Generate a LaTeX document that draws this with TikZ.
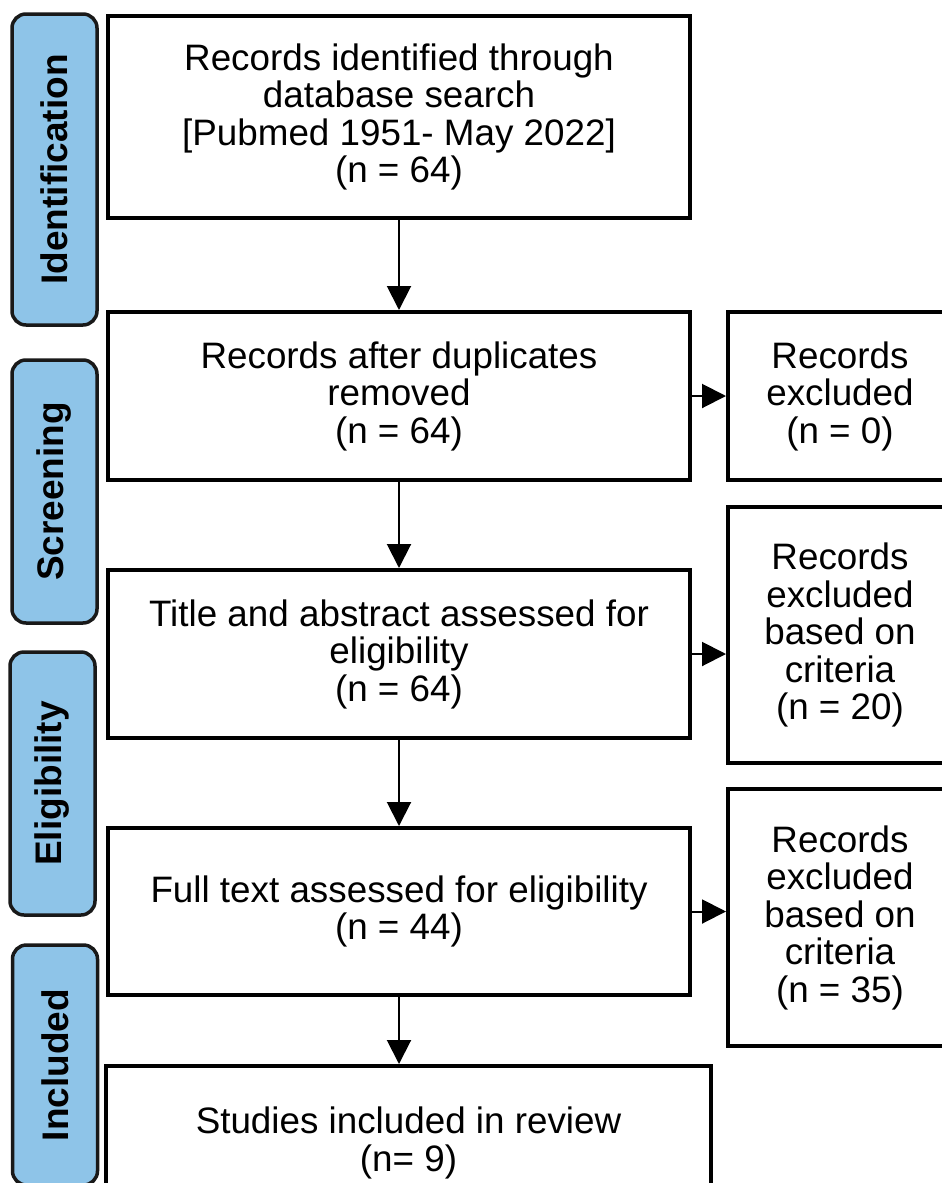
\documentclass[tikz,border=0pt]{standalone}
\usepackage{fontspec}
\setmainfont{Liberation Sans}
\usetikzlibrary{arrows.meta}
\definecolor{stageblue}{HTML}{8EC4E8}
\begin{document}
\begin{tikzpicture}[x=1pt,y=-1pt,
    stage/.style={draw=black!90,line width=3.5pt,fill=stageblue,rounded corners=14pt,
      minimum height=85pt,inner sep=0pt,rotate=90,font=\fontsize{37}{40}\selectfont\bfseries},
    box/.style={draw,line width=4pt,fill=white,minimum width=582pt,inner sep=0pt,
      align=center,font=\fontsize{36.8}{37.5}\selectfont},
    exclbox/.style={box,minimum width=224pt},
    flow/.style={line width=2pt,-{Triangle[length=24pt,width=24pt]}}]
    \useasboundingbox (0,0) rectangle (942,1183);
    \clip (0,0) rectangle (942,1183);
    \node[stage,minimum width=311pt] (sident) at (54.5,169.5) {Identification};
    \node[stage,minimum width=263pt] (sscreen) at (54.5,491.5) {Screening};
    \node[stage,minimum width=263pt] (selig) at (52.5,783.5) {Eligibility};
    \node[stage,minimum width=240pt] (sincl) at (55,1065) {Included};
    \node[box,minimum height=202pt] (ident) at (399,117)
      {Records identified through\\database search\\{}[Pubmed 1951- May 2022]\\(n = 64)};
    \node[box,minimum height=168pt] (dedup) at (399,396)
      {Records after duplicates\\removed\\(n = 64)};
    \node[box,minimum height=168pt] (title) at (399,654)
      {Title and abstract assessed for\\eligibility\\(n = 64)};
    \node[box,minimum height=167pt] (full) at (399,911.5)
      {Full text assessed for eligibility\\(n = 44)};
    \node[box,minimum width=605pt,minimum height=154pt] (incl) at (408.5,1143)
      {Studies included in review\\(n= 9)};
    \node[exclbox,minimum height=168pt] (excla) at (840,396)
      {Records\\excluded\\(n = 0)};
    \node[exclbox,minimum height=256pt] (exclb) at (840,635)
      {Records\\excluded\\based on\\criteria\\(n = 20)};
    \node[exclbox,minimum height=257pt] (exclc) at (840,917.5)
      {Records\\excluded\\based on\\criteria\\(n = 35)};
    \draw[flow] (ident) -- (dedup);
    \draw[flow] (dedup) -- (title);
    \draw[flow] (title) -- (full);
    \draw[flow] (full.south) -- (full.south |- incl.north);
    \draw[flow] (dedup) -- (dedup -| excla.west);
    \draw[flow] (title) -- (title -| exclb.west);
    \draw[flow] (full) -- (full -| exclc.west);
\end{tikzpicture}
\end{document}
